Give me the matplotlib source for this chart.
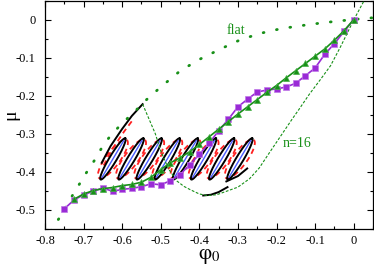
import numpy as np
import matplotlib
matplotlib.use("Agg")
import matplotlib.pyplot as plt
from matplotlib.ticker import MultipleLocator

plt.rcParams['font.family'] = 'serif'
plt.rcParams['font.serif'] = ['Liberation Serif', 'DejaVu Serif']
plt.rcParams['mathtext.fontset'] = 'stix'

# ---------------- data ----------------
sq_x = [-0.75, -0.725, -0.70, -0.675, -0.65, -0.625, -0.60, -0.575, -0.55, -0.525,
        -0.50, -0.475, -0.45, -0.425, -0.40, -0.375, -0.35, -0.325, -0.30, -0.275,
        -0.25, -0.225, -0.20, -0.175, -0.15, -0.125, -0.10, -0.075, -0.05, -0.025, 0.0]
sq_y = [-0.497, -0.474, -0.460, -0.451, -0.442, -0.451, -0.446, -0.443, -0.439, -0.431,
        -0.434, -0.423, -0.407, -0.381, -0.354, -0.325, -0.292, -0.262, -0.229, -0.209,
        -0.190, -0.185, -0.182, -0.177, -0.167, -0.147, -0.127, -0.091, -0.063, -0.031, 0.0]

tri_x = [-0.725, -0.70, -0.675, -0.65, -0.625, -0.60, -0.575, -0.55, -0.525, -0.50,
         -0.475, -0.45, -0.425, -0.40, -0.375, -0.35, -0.325, -0.30, -0.275, -0.25,
         -0.225, -0.20, -0.175, -0.15, -0.125, -0.10, -0.075, -0.05, -0.025, 0.0]
tri_y = [-0.472, -0.458, -0.449, -0.444, -0.441, -0.436, -0.433, -0.427, -0.414, -0.394,
         -0.376, -0.363, -0.347, -0.328, -0.308, -0.288, -0.268, -0.248, -0.229, -0.210,
         -0.191, -0.173, -0.153, -0.134, -0.115, -0.096, -0.077, -0.054, -0.029, 0.0]

flat_x = [-0.785, -0.757, -0.738, -0.715, -0.694, -0.672, -0.649, -0.631, -0.61, -0.584,
          -0.558, -0.54, -0.50, -0.449, -0.397, -0.345, -0.294, -0.242, -0.19, -0.138,
          -0.086, -0.034, 0.026, 0.05]
flat_y = [-0.555, -0.512, -0.477, -0.439, -0.404, -0.370, -0.330, -0.306, -0.283, -0.257,
          -0.232, -0.213, -0.177, -0.134, -0.103, -0.077, -0.053, -0.036, -0.024, -0.016,
          -0.009, -0.003, 0.003, 0.005]

n16_x = [-0.547, -0.53, -0.514, -0.50, -0.48, -0.458, -0.44, -0.423, -0.40, -0.38,
         -0.355, -0.33, -0.30, -0.27, -0.245, -0.22, -0.19, -0.16, -0.142, -0.115,
         -0.086, -0.06, -0.035, -0.0165, 0.0, 0.027]
n16_y = [-0.222, -0.262, -0.300, -0.345, -0.392, -0.424, -0.438, -0.447, -0.458, -0.462,
         -0.460, -0.451, -0.440, -0.418, -0.390, -0.352, -0.307, -0.262, -0.236, -0.196,
         -0.157, -0.121, -0.073, -0.035, -0.001, 0.05]

# stable branch segments (black)
arc_left_x = [-0.653, -0.63, -0.60, -0.575, -0.547]
arc_left_y = [-0.376, -0.332, -0.287, -0.253, -0.222]
arc_bot_x = [-0.39, -0.37, -0.35, -0.327]
arc_bot_y = [-0.462, -0.460, -0.453, -0.440]
arc_br_x = [-0.33, -0.30, -0.276]
arc_br_y = [-0.425, -0.411, -0.391]

# loops (finite size oscillations)
loop_top_x = [-0.592, -0.545, -0.498, -0.451, -0.404, -0.357, -0.310, -0.263]
loop_top_y = -0.312
loop_bot_y = -0.420
loop_dx = 0.064

PURPLE = '#9a2bd6'
GREEN = '#189018'
RED = '#ff2020'
BLUE = '#4a5cff'

fig = plt.figure(figsize=(3.74, 2.69), dpi=100)
ax = fig.add_axes([0.1203, 0.1487, 0.877, 0.849])
ax.set_xlim(-0.8, 0.05)
ax.set_ylim(-0.55, 0.05)

XS = 385.0   # px per data unit (x)
YS = 381.0   # px per data unit (y)


def lens(x0, y0, x1, y1, half_px, n=160):
    cx, cy = (x0 + x1) / 2, (y0 + y1) / 2
    ax_px = np.array([(x1 - x0) / 2 * XS, (y1 - y0) / 2 * YS])
    L = np.hypot(*ax_px)
    nrm = np.array([ax_px[1], -ax_px[0]]) / L
    t = np.linspace(0, 2 * np.pi, n)
    px = np.cos(t)[:, None] * ax_px + (np.sin(t) * half_px)[:, None] * nrm
    return cx + px[:, 0] / XS, cy + px[:, 1] / YS


for tx in loop_top_x:
    bx = tx - loop_dx
    rx, ry = lens(bx - 0.004, loop_bot_y + 0.004, tx + 0.004, loop_top_y - 0.004, 7.0)
    ax.plot(rx, ry, color=RED, lw=1.3, dashes=(3, 2.2), zorder=2)
    kx, ky = lens(bx, loop_bot_y, tx, loop_top_y, 3.6)
    ax.plot(kx, ky, color='black', lw=1.4, zorder=3)
    ax.plot([bx + 0.004, tx - 0.004], [loop_bot_y + 0.006, loop_top_y - 0.006],
            color=BLUE, lw=1.0, zorder=3)

ax.plot(np.array(arc_left_x[:4]) + 0.005, np.array(arc_left_y[:4]) - 0.007,
        color=RED, lw=1.3, dashes=(3, 2.2), zorder=2)
ax.plot(arc_left_x, arc_left_y, color='black', lw=1.4, zorder=3)
ax.plot(arc_bot_x, arc_bot_y, color='black', lw=1.4, zorder=3)
ax.plot(arc_br_x, arc_br_y, color='black', lw=1.4, zorder=3)

ax.plot(n16_x, n16_y, color=GREEN, lw=0.8, dashes=(2.5, 1.5), zorder=4)
ax.plot(flat_x, flat_y, color=GREEN, lw=2.0, dashes=(0.3, 4.6),
        dash_capstyle='round', zorder=4)

ax.plot(sq_x, sq_y, color=PURPLE, lw=1.2, marker='s', ms=3.8,
        mfc=PURPLE, mec='#c07ae8', mew=0.5, zorder=5)
ax.plot(tri_x, tri_y, color=GREEN, lw=1.2, marker='^', ms=4.8,
        mfc=GREEN, mec='#46b046', mew=0.5, zorder=6)

ax.text(-0.306, -0.029, 'flat', color=GREEN, fontsize=10, ha='center', va='center')
ax.text(-0.146, -0.325, 'n=16', color=GREEN, fontsize=10, ha='center', va='center')

xt = [-0.8, -0.7, -0.6, -0.5, -0.4, -0.3, -0.2, -0.1, 0.0]
xl = ['-0.8', '-0.7', '-0.6', '-0.5', '-0.4', '-0.3', '-0.2', '-0.1', '0']
yt = [-0.5, -0.4, -0.3, -0.2, -0.1, 0.0]
yl = ['-0.5', '-0.4', '-0.3', '-0.2', '-0.1', '0']
ax.set_xticks(xt)
ax.set_xticklabels(xl)
ax.set_yticks(yt)
ax.set_yticklabels(yl)
ax.xaxis.set_minor_locator(MultipleLocator(0.05))
ax.yaxis.set_minor_locator(MultipleLocator(0.05))
ax.tick_params(which='both', direction='in', top=True, right=True, labelsize=9,
               width=0.8)
ax.tick_params(which='major', length=4.5)
ax.tick_params(which='minor', length=2.5)
ax.tick_params(axis='y', pad=7)
ax.tick_params(axis='x', pad=4)
for s in ax.spines.values():
    s.set_linewidth(0.9)

ax.set_xlabel(r'$\mathrm{φ}_0$', fontsize=15, labelpad=0)
ax.set_ylabel('μ', fontsize=14)
ax.yaxis.set_label_coords(-0.078, 0.5)

fig.savefig('out.png', dpi=100)
